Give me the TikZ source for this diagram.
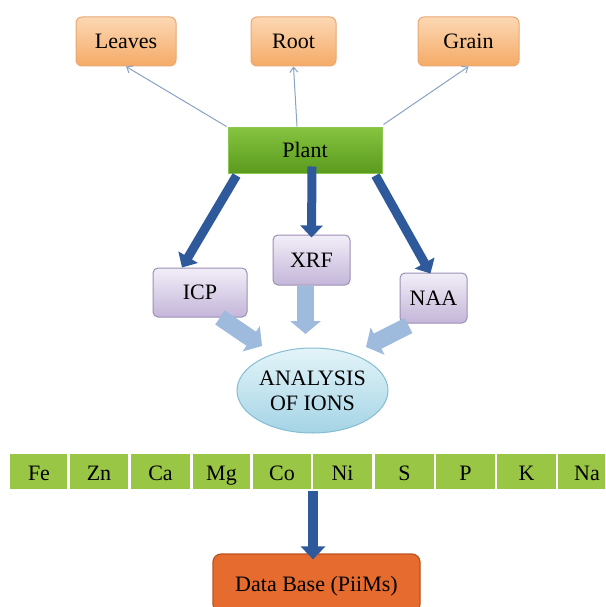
\documentclass[tikz,border=0pt]{standalone}
\usepackage{fontspec}
\setmainfont{Liberation Serif}
\usetikzlibrary{arrows.meta,shapes.geometric,calc}
\definecolor{orTop}{HTML}{FCD8B4}
\definecolor{orBot}{HTML}{F5AA66}
\definecolor{orLine}{HTML}{E9A874}
\definecolor{grTop}{HTML}{86C440}
\definecolor{grBot}{HTML}{5A9A1E}
\definecolor{grLine}{HTML}{8CC850}
\definecolor{puTop}{HTML}{F2EEF8}
\definecolor{puBot}{HTML}{C4B6D9}
\definecolor{puLine}{HTML}{9C90B4}
\definecolor{cyTop}{HTML}{E4F4F9}
\definecolor{cyBot}{HTML}{A4D4E5}
\definecolor{cyLine}{HTML}{86BDD2}
\definecolor{cellGreen}{HTML}{9AC646}
\definecolor{dbFill}{HTML}{E56B2E}
\definecolor{dbLine}{HTML}{BA531F}
\definecolor{darkBlue}{HTML}{2E5A9C}
\definecolor{lightBlue}{HTML}{9EBBDD}
\definecolor{thinBlue}{HTML}{8AA2C4}
\begin{document}
\begin{tikzpicture}[x=1pt,y=-1pt,
  every node/.style={font=\fontsize{22}{25}\selectfont, text=black, inner sep=0pt},
  orbox/.style={draw=orLine, line width=1pt, rounded corners=6pt, top color=orTop, bottom color=orBot, minimum height=49pt},
  plantbox/.style={draw=grLine, line width=1pt, top color=grTop, bottom color=grBot, minimum width=154pt, minimum height=46pt},
  pubox/.style={draw=puLine, line width=1pt, rounded corners=5pt, top color=puTop, bottom color=puBot},
  ionell/.style={ellipse, draw=cyLine, line width=1pt, top color=cyTop, bottom color=cyBot, minimum width=151pt, minimum height=85pt, align=center},
  cellbox/.style={fill=cellGreen, minimum height=35pt},
  dbbox/.style={draw=dbLine, line width=1.2pt, rounded corners=8pt, fill=dbFill, minimum width=207pt, minimum height=58pt},
  thinarrow/.style={draw=thinBlue, line width=1pt, -{Straight Barb[length=5pt,width=8pt]}},
  bigarrow/.style={draw=darkBlue, line width=9pt, -{Triangle[length=12pt,width=22pt]}},
  fatarrow/.style={draw=lightBlue, line width=17pt, -{Triangle[length=13pt,width=30pt]}}
]
\useasboundingbox (0,0) rectangle (605,607);
\fill[white] (0,0) rectangle (605,607);
\begin{scope}
\clip (0,0) rectangle (605,607);

% top boxes
\node[orbox, minimum width=100pt] (leaves) at (126,41.5) {Leaves};
\node[orbox, minimum width=85pt] (root) at (293.5,41.5) {Root};
\node[orbox, minimum width=101pt] (grain) at (468.5,41.5) {Grain};

\node[plantbox] (plant) at (305,150) {Plant};

% thin arrows
\draw[thinarrow] ([xshift=-1pt]plant.north west) -- (leaves.south);
\draw[thinarrow] ([xshift=-8pt]plant.north) -- (root.south);
\draw[thinarrow] ([xshift=1pt,yshift=2pt]plant.north east) -- (grain.south);

% method boxes
\node[pubox, minimum width=94pt, minimum height=49pt] (icp) at (200,292.5) {ICP};
\node[pubox, minimum width=77pt, minimum height=50pt] (xrf) at (311.5,260) {XRF};
\node[pubox, minimum width=67pt, minimum height=50pt] (naa) at (433.5,298) {NAA};

% thick blue arrows
\draw[bigarrow] ([xshift=9pt,yshift=-2pt]plant.south west) -- ([xshift=-18pt]icp.north);
\draw[bigarrow] ([xshift=7pt,yshift=7pt]plant.south) -- ([yshift=-3pt]xrf.north);
\draw[bigarrow] ([xshift=-7pt,yshift=-2pt]plant.south east) -- ([xshift=-3pt,yshift=-1pt]naa.north);

% ellipse
\node[ionell] (ions) at (312.5,390.5) {ANALYSIS\\OF IONS};

% light fat arrows
\draw[fatarrow] ([xshift=20pt]icp.south) -- (262,346);
\draw[fatarrow] ([xshift=-6pt]xrf.south) -- (305.5,334);
\draw[fatarrow] ([xshift=-25pt,yshift=-2pt]naa.south) -- (366,347);

% element bar
\foreach \i/\xa/\xb in {1/10/67, 2/70/128, 3/131/190, 4/193/250, 5/253/311, 6/313/372, 7/375/434, 8/436/495, 9/497/556, 10/558/620}{
  \node[cellbox, minimum width={\xb-\xa}] (cell\i) at ({(\xa+\xb)/2},471.5) {};
}
\foreach \i/\lab/\xt in {1/Fe/39, 2/Zn/99, 3/Ca/160.5, 4/Mg/221.5, 5/Co/282, 6/Ni/342.5, 7/S/404.5, 8/P/465.5, 9/K/526.5, 10/Na/587}{
  \node[anchor=base] (lab\i) at (\xt,480) {\lab};
}

% data base
\node[dbbox] (db) at (316.5,583) {};
\node[anchor=base] (dbtext) at (316.5,591) {Data Base (PiiMs)};
\coordinate (barbottom) at (313,491);
\draw[bigarrow, line width=10pt, -{Triangle[length=13pt,width=24pt]}] (barbottom) -- ([yshift=-6pt]db.north -| barbottom);
\end{scope}
\end{tikzpicture}
\end{document}
